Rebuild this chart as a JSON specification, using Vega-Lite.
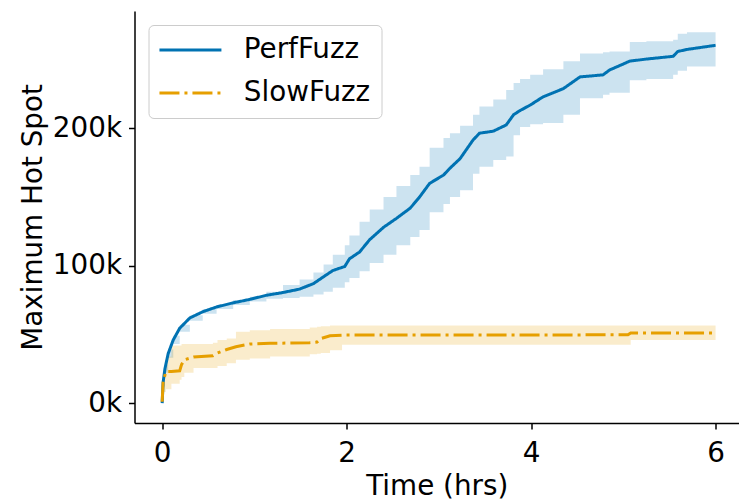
{
  "$schema": "https://vega.github.io/schema/vega-lite/v6.json",
  "width": 604.5,
  "height": 412,
  "autosize": {"type": "none"},
  "padding": {"left": 134.5, "top": 11, "right": 0, "bottom": 81},
  "background": "white",
  "config": {
    "view": {"stroke": null},
    "font": "DejaVu Sans",
    "axis": {
      "grid": false,
      "domainColor": "black",
      "domainWidth": 1.5,
      "tickColor": "black",
      "tickWidth": 1.5,
      "tickSize": 6,
      "labelFont": "DejaVu Sans",
      "labelFontSize": 27.8,
      "labelColor": "black",
      "titleFont": "DejaVu Sans",
      "titleFontSize": 27.8,
      "titleFontWeight": "normal",
      "titleColor": "black"
    },
    "legend": {
      "orient": "none",
      "legendX": 14,
      "legendY": 14,
      "title": null,
      "strokeColor": "#cccccc",
      "fillColor": "white",
      "cornerRadius": 5,
      "padding": 11,
      "labelFont": "DejaVu Sans",
      "labelFontSize": 27.8,
      "labelColor": "black",
      "labelOffset": 56.5,
      "symbolType": "M-1.8,0H6.2",
      "symbolSize": 240,
      "symbolStrokeWidth": 3,
      "rowPadding": 14
    }
  },
  "datasets": {
    "runs": [
      {"series": "PerfFuzz", "t": 0, "mean": 0, "lo": 0, "hi": 2},
      {"series": "PerfFuzz", "t": 0.01, "mean": 15, "lo": 12, "hi": 18},
      {"series": "PerfFuzz", "t": 0.03, "mean": 25, "lo": 22, "hi": 28},
      {"series": "PerfFuzz", "t": 0.065, "mean": 36, "lo": 33, "hi": 39},
      {"series": "PerfFuzz", "t": 0.12, "mean": 46, "lo": 43, "hi": 49},
      {"series": "PerfFuzz", "t": 0.19, "mean": 54.5, "lo": 52, "hi": 57},
      {"series": "PerfFuzz", "t": 0.3, "mean": 62, "lo": 60, "hi": 64},
      {"series": "PerfFuzz", "t": 0.44, "mean": 66.5, "lo": 65, "hi": 68.5},
      {"series": "PerfFuzz", "t": 0.59, "mean": 70, "lo": 68.5, "hi": 71.5},
      {"series": "PerfFuzz", "t": 0.77, "mean": 73, "lo": 71.5, "hi": 75},
      {"series": "PerfFuzz", "t": 0.95, "mean": 75.5, "lo": 74, "hi": 77.5},
      {"series": "PerfFuzz", "t": 1.13, "mean": 78.5, "lo": 76, "hi": 81},
      {"series": "PerfFuzz", "t": 1.31, "mean": 80.5, "lo": 76.5, "hi": 86},
      {"series": "PerfFuzz", "t": 1.49, "mean": 83, "lo": 77.5, "hi": 90},
      {"series": "PerfFuzz", "t": 1.64, "mean": 87, "lo": 79, "hi": 95},
      {"series": "PerfFuzz", "t": 1.75, "mean": 92, "lo": 81, "hi": 101},
      {"series": "PerfFuzz", "t": 1.85, "mean": 96.5, "lo": 84, "hi": 108},
      {"series": "PerfFuzz", "t": 1.98, "mean": 99.5, "lo": 88, "hi": 115},
      {"series": "PerfFuzz", "t": 2.03, "mean": 105, "lo": 91, "hi": 122},
      {"series": "PerfFuzz", "t": 2.14, "mean": 110, "lo": 96, "hi": 132},
      {"series": "PerfFuzz", "t": 2.25, "mean": 119, "lo": 102, "hi": 141},
      {"series": "PerfFuzz", "t": 2.4, "mean": 128, "lo": 108, "hi": 150},
      {"series": "PerfFuzz", "t": 2.54, "mean": 134.5, "lo": 115, "hi": 158},
      {"series": "PerfFuzz", "t": 2.69, "mean": 142, "lo": 121, "hi": 166},
      {"series": "PerfFuzz", "t": 2.79, "mean": 150, "lo": 126, "hi": 172},
      {"series": "PerfFuzz", "t": 2.9, "mean": 160, "lo": 139, "hi": 186},
      {"series": "PerfFuzz", "t": 3.05, "mean": 166, "lo": 145, "hi": 193},
      {"series": "PerfFuzz", "t": 3.12, "mean": 171, "lo": 150, "hi": 196.5},
      {"series": "PerfFuzz", "t": 3.23, "mean": 178, "lo": 155, "hi": 202},
      {"series": "PerfFuzz", "t": 3.37, "mean": 191.5, "lo": 167, "hi": 210},
      {"series": "PerfFuzz", "t": 3.44, "mean": 196.5, "lo": 172, "hi": 216},
      {"series": "PerfFuzz", "t": 3.59, "mean": 198, "lo": 177, "hi": 221},
      {"series": "PerfFuzz", "t": 3.73, "mean": 202.5, "lo": 179.5, "hi": 228},
      {"series": "PerfFuzz", "t": 3.81, "mean": 210, "lo": 195, "hi": 233},
      {"series": "PerfFuzz", "t": 3.88, "mean": 213, "lo": 201, "hi": 236},
      {"series": "PerfFuzz", "t": 3.99, "mean": 217, "lo": 203, "hi": 239},
      {"series": "PerfFuzz", "t": 4.13, "mean": 223, "lo": 204, "hi": 243},
      {"series": "PerfFuzz", "t": 4.35, "mean": 229, "lo": 210, "hi": 249},
      {"series": "PerfFuzz", "t": 4.53, "mean": 237.5, "lo": 222, "hi": 254.5},
      {"series": "PerfFuzz", "t": 4.78, "mean": 239, "lo": 224.5, "hi": 255.5},
      {"series": "PerfFuzz", "t": 4.85, "mean": 242.5, "lo": 226, "hi": 256},
      {"series": "PerfFuzz", "t": 5.07, "mean": 249, "lo": 235, "hi": 263},
      {"series": "PerfFuzz", "t": 5.25, "mean": 250.5, "lo": 236, "hi": 263.5},
      {"series": "PerfFuzz", "t": 5.54, "mean": 252.5, "lo": 239, "hi": 264.5},
      {"series": "PerfFuzz", "t": 5.59, "mean": 256, "lo": 242, "hi": 269},
      {"series": "PerfFuzz", "t": 5.69, "mean": 257.5, "lo": 245, "hi": 270},
      {"series": "PerfFuzz", "t": 6.0, "mean": 260.5, "lo": 248, "hi": 272},
      {"series": "SlowFuzz", "t": 0, "mean": 1, "lo": 0, "hi": 3},
      {"series": "SlowFuzz", "t": 0.01, "mean": 15, "lo": 8, "hi": 22},
      {"series": "SlowFuzz", "t": 0.04, "mean": 23, "lo": 10, "hi": 34},
      {"series": "SlowFuzz", "t": 0.1, "mean": 23, "lo": 14, "hi": 42},
      {"series": "SlowFuzz", "t": 0.19, "mean": 23.5, "lo": 17, "hi": 42},
      {"series": "SlowFuzz", "t": 0.21, "mean": 28, "lo": 19, "hi": 43},
      {"series": "SlowFuzz", "t": 0.24, "mean": 31.5, "lo": 22, "hi": 43},
      {"series": "SlowFuzz", "t": 0.34, "mean": 33.5, "lo": 25.5, "hi": 43},
      {"series": "SlowFuzz", "t": 0.55, "mean": 34.5, "lo": 25.5, "hi": 44},
      {"series": "SlowFuzz", "t": 0.6, "mean": 36.5, "lo": 27, "hi": 46},
      {"series": "SlowFuzz", "t": 0.7, "mean": 39, "lo": 29, "hi": 47},
      {"series": "SlowFuzz", "t": 0.8, "mean": 41, "lo": 31.5, "hi": 52},
      {"series": "SlowFuzz", "t": 0.95, "mean": 43, "lo": 32.5, "hi": 53},
      {"series": "SlowFuzz", "t": 1.17, "mean": 43.5, "lo": 34, "hi": 54},
      {"series": "SlowFuzz", "t": 1.6, "mean": 44, "lo": 35.5, "hi": 55},
      {"series": "SlowFuzz", "t": 1.68, "mean": 44.5, "lo": 36, "hi": 55.5},
      {"series": "SlowFuzz", "t": 1.72, "mean": 47, "lo": 36.5, "hi": 56},
      {"series": "SlowFuzz", "t": 1.82, "mean": 49, "lo": 38.5, "hi": 56.5},
      {"series": "SlowFuzz", "t": 1.95, "mean": 49.5, "lo": 42.5, "hi": 56.5},
      {"series": "SlowFuzz", "t": 5.05, "mean": 49.7, "lo": 42.5, "hi": 56.5},
      {"series": "SlowFuzz", "t": 5.08, "mean": 51, "lo": 46, "hi": 56.5},
      {"series": "SlowFuzz", "t": 6.0, "mean": 51, "lo": 46, "hi": 56.5}
    ]
  },
  "data": {"name": "runs"},
  "encoding": {
    "x": {
      "field": "t",
      "type": "quantitative",
      "scale": {"domain": [-0.3, 6.254], "nice": false, "zero": false},
      "axis": {"title": "Time (hrs)", "values": [0, 2, 4, 6], "labelPadding": 10, "titlePadding": 6, "format": "d"}
    }
  },
  "layer": [
    {
      "transform": [{"filter": "datum.series === 'PerfFuzz'"}],
      "mark": {"type": "area", "interpolate": "step-after", "color": "#0072B2", "opacity": 0.2},
      "encoding": {
        "y": {"field": "lo", "type": "quantitative", "scale": {"domain": [-14.5, 285.5], "nice": false, "zero": false},
              "axis": {"title": "Maximum Hot Spot", "values": [0, 100, 200], "labelExpr": "datum.value + 'k'", "labelPadding": 7, "titlePadding": 5}},
        "y2": {"field": "hi"}
      }
    },
    {
      "transform": [{"filter": "datum.series === 'SlowFuzz'"}],
      "mark": {"type": "area", "interpolate": "step-after", "color": "#E69F00", "opacity": 0.2},
      "encoding": {
        "y": {"field": "lo", "type": "quantitative"},
        "y2": {"field": "hi"}
      }
    },
    {
      "mark": {"type": "line", "strokeWidth": 3, "interpolate": "linear"},
      "encoding": {
        "y": {"field": "mean", "type": "quantitative"},
        "color": {"field": "series", "type": "nominal", "scale": {"domain": ["PerfFuzz", "SlowFuzz"], "range": ["#0072B2", "#E69F00"]}},
        "strokeDash": {"field": "series", "type": "nominal", "scale": {"domain": ["PerfFuzz", "SlowFuzz"], "range": [[1, 0], [20, 5, 3, 5]]}}
      }
    },
    {
      "data": {"values": [{}]},
      "mark": {"type": "rule", "color": "black", "strokeWidth": 1.5},
      "encoding": {"y": {"datum": 285.5}, "x": {"datum": -0.3}, "x2": {"datum": 6.254}}
    }
  ]
}
